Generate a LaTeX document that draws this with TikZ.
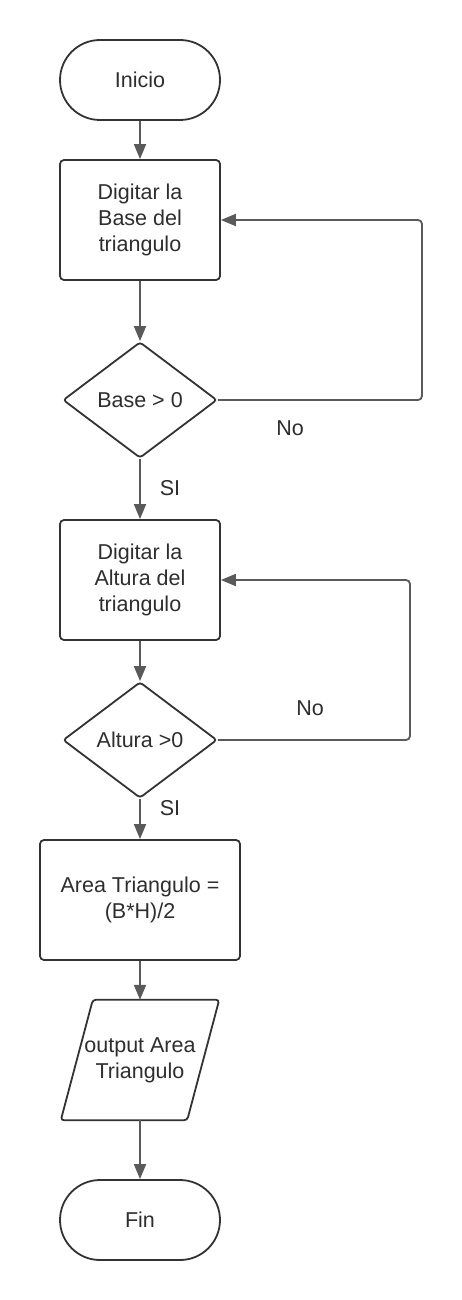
\documentclass[tikz,border=0pt]{standalone}
\usepackage{fontspec}
\setmainfont{Liberation Sans}
\usetikzlibrary{shapes.geometric,shapes.misc,arrows.meta,calc}
\definecolor{edge}{HTML}{333333}
\definecolor{arr}{HTML}{5A5A5A}
\definecolor{txt}{HTML}{2E2E2E}
\begin{document}
\begin{tikzpicture}[x=1pt,y=-1pt,
  every node/.style={font=\fontsize{21.5}{26}\selectfont, text=txt, align=center},
  term/.style={rounded rectangle, draw=edge, line width=1.8pt, minimum width=160pt, minimum height=80pt, inner sep=0pt},
  proc/.style={rectangle, rounded corners=4pt, draw=edge, line width=1.8pt, minimum height=120pt, inner sep=0pt},
  deci/.style={diamond, draw=edge, line width=1.8pt, minimum width=154pt, minimum height=116pt, inner sep=0pt, rounded corners=3pt},
  lbl/.style={inner sep=0pt},
  conn/.style={draw=arr, line width=1.8pt, -{Triangle[width=12pt,length=15pt]}},
  loopc/.style={conn, rounded corners=4pt}
]
\useasboundingbox (0,0) rectangle (462,1300);
\fill[white] (0,0) rectangle (462,1300);

\node[term] (ini) at (140,80) {Inicio};
\node[proc, minimum width=160pt] (b1) at (140,220) {Digitar la\\Base del\\triangulo};
\node[deci] (d1) at (140,400) {Base > 0};
\node[proc, minimum width=160pt] (b2) at (140,580) {Digitar la\\Altura del\\triangulo};
\node[deci] (d2) at (140,740) {Altura >0};
\node[proc, minimum width=200pt] (b3) at (140,900) {Area Triangulo =\\(B*H)/2};
\node[minimum width=126pt, minimum height=120pt, inner sep=0pt] (out) at (140,1060) {output Area\\Triangulo};
\draw[edge, line width=1.8pt, rounded corners=3pt]
  ($(out.north west)+(16,0)$) -- ($(out.north east)+(16,0)$) --
  ($(out.south east)+(-16,0)$) -- ($(out.south west)+(-16,0)$) -- cycle;
\node[term] (fin) at (140,1220) {Fin};

\coordinate (l1) at (422,220);
\coordinate (l2) at (410,580);

\draw[conn] (ini) -- (b1);
\draw[conn] (b1) -- (d1);
\draw[conn] (d1) -- (b2);
\draw[conn] (b2) -- (d2);
\draw[conn] (d2) -- (b3);
\draw[conn] (b3) -- (out);
\draw[conn] (out) -- (fin);
\draw[loopc] (d1.east) -| (l1) -- (b1.east);
\draw[loopc] (d2.east) -| (l2) -- (b2.east);

\node[lbl] (no1) at (290,428) {No};
\node[lbl] (si1) at (170,488) {SI};
\node[lbl] (no2) at (310,708) {No};
\node[lbl] (si2) at (170,808) {SI};
\end{tikzpicture}
\end{document}
